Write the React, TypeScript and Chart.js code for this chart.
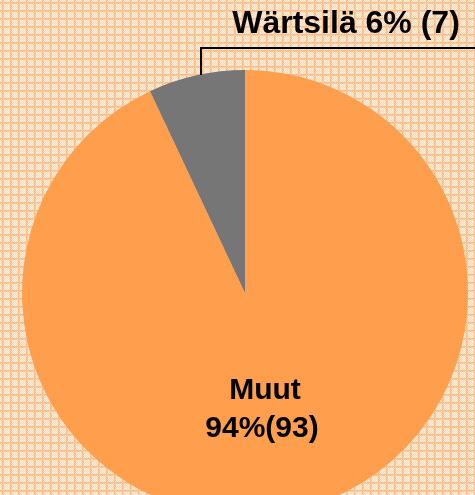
import React, { useEffect, useRef } from "react";
import { Chart, registerables } from "chart.js";

Chart.register(...registerables);

const categories = ["Muut", "Wärtsilä"];
const values = [93, 7];
const labelTexts = [["Muut", "94%(93)"], ["Wärtsilä 6% (7)"]];
const colors = ["#FF9F4E", "#767676"];

function makePattern(ctx: CanvasRenderingContext2D) {
  const p = document.createElement("canvas");
  p.width = 8;
  p.height = 8;
  const c = p.getContext("2d")!;
  for (let y = 0; y < 8; y++) {
    for (let x = 0; x < 8; x++) {
      c.fillStyle = (x + y) % 2 === 0 ? "#FFF3E8" : "#FDD6B3";
      c.fillRect(x, y, 1, 1);
    }
  }
  c.fillStyle = "#FDBC88";
  c.fillRect(2, 0, 1, 8);
  c.fillRect(0, 2, 8, 1);
  c.fillStyle = "#FDCBA0";
  c.fillRect(3, 0, 1, 8);
  c.fillRect(0, 3, 8, 1);
  return ctx.createPattern(p, "repeat")!;
}

const bgPlugin = {
  id: "bgPattern",
  beforeDraw(chart: any) {
    const ctx = chart.ctx as CanvasRenderingContext2D;
    ctx.save();
    ctx.fillStyle = makePattern(ctx);
    ctx.fillRect(0, 0, chart.width, chart.height);
    ctx.restore();
  },
};

const labelPlugin = {
  id: "pieLabels",
  afterDraw(chart: any) {
    const ctx = chart.ctx as CanvasRenderingContext2D;
    const meta = chart.getDatasetMeta(0);
    const arcMuut = meta.data[0];
    const cx = arcMuut.x;
    const cy = arcMuut.y;
    const r = arcMuut.outerRadius;
    ctx.save();
    ctx.fillStyle = "#000";
    ctx.textAlign = "center";
    ctx.textBaseline = "alphabetic";
    // Muut label inside slice
    ctx.font = "bold 30px 'Liberation Sans', Arial, sans-serif";
    ctx.fillText(labelTexts[0][0], cx + 20, cy + 106);
    ctx.fillText(labelTexts[0][1], cx + 17, cy + 144);
    // Wärtsilä leader line
    ctx.strokeStyle = "#000";
    ctx.lineWidth = 2;
    ctx.beginPath();
    ctx.moveTo(201, cy - r + 5);
    ctx.lineTo(201, 48);
    ctx.lineTo(chart.width, 48);
    ctx.stroke();
    ctx.font = "bold 32px 'Liberation Sans', Arial, sans-serif";
    ctx.fillText(labelTexts[1][0], 346, 33);
    ctx.restore();
  },
};

export default function App() {
  const ref = useRef<HTMLCanvasElement>(null);
  useEffect(() => {
    const chart = new Chart(ref.current!, {
      type: "pie",
      data: {
        labels: categories,
        datasets: [
          {
            data: values,
            backgroundColor: colors,
            borderWidth: 0,
          },
        ],
      },
      options: {
        animation: false,
        responsive: false,
        maintainAspectRatio: false,
        layout: { padding: 22 },
        plugins: {
          legend: { display: false },
          tooltip: { enabled: false },
        },
      },
      plugins: [bgPlugin, labelPlugin],
    });
    return () => chart.destroy();
  }, []);
  return (
    <div
      style={{
        position: "fixed",
        left: 0,
        top: 0,
        width: 475,
        height: 495,
        overflow: "hidden",
      }}
    >
      <canvas ref={ref} width={490} height={586} style={{ width: 490, height: 586, display: "block" }} />
    </div>
  );
}
